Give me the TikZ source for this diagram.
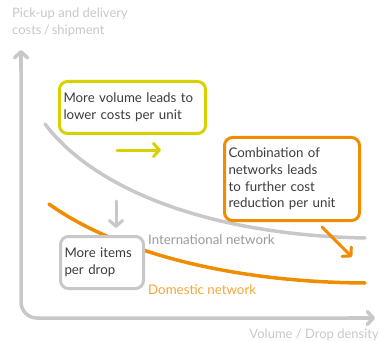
\documentclass[tikz,border=0pt]{standalone}
\usepackage{fontspec}
\setmainfont{Lato}
\usetikzlibrary{arrows.meta}
\definecolor{axisgray}{HTML}{C8C8C8}
\definecolor{txtgray}{HTML}{3C3C3C}
\definecolor{labgray}{HTML}{9A9A9A}
\definecolor{ylw}{HTML}{D9D000}
\definecolor{org}{HTML}{F08C00}
\definecolor{lorg}{HTML}{F5A637}
\tikzset{
  chev/.style={-{Straight Barb[length=6pt,width=13pt,round]}},
  infobox/.style={draw,line width=3pt,rounded corners=8pt,inner sep=0pt,anchor=north west,align=left,text=txtgray,font=\fontsize{13.3}{16.8}\selectfont},
  lab/.style={anchor=west,inner sep=0pt,font=\fontsize{13.3}{14}\selectfont},
}
\begin{document}
\begin{tikzpicture}[x=1pt,y=-1pt]
\useasboundingbox (0,0) rectangle (380,342);
% axes
\coordinate (ytip) at (21,50);
\coordinate (xtip) at (375,318);
\draw[axisgray,line width=3.5pt,line cap=round,chev] (21,70) -- (ytip);
\draw[axisgray,line width=3.5pt,line cap=round,rounded corners=16pt] (21,60) -- (21,318) -- (360,318);
\draw[axisgray,line width=3.5pt,line cap=round,chev] (350,318) -- (xtip);
\node[lab,anchor=north west,align=left,text=axisgray,font=\fontsize{13}{16.5}\selectfont] (ylab) at (12,8) {Pick-up and delivery\\costs\,/\,shipment};
\node[lab,anchor=east,text=axisgray,font=\fontsize{13}{14}\selectfont] (xlab) at (379,335) {Volume / Drop density};
% curves
\coordinate (g0) at (45,124);
\coordinate (g1) at (365,238);
\draw[axisgray,line width=3.5pt,line cap=round] (g0) .. controls (95,190) and (210,235) .. (g1);
\coordinate (o0) at (49,204);
\coordinate (o1) at (365,283);
\draw[org,line width=3.5pt,line cap=round] (o0) .. controls (110,248) and (220,282) .. (o1);
\node[lab,text=labgray] (intl) at (148,240) {International network};
\node[lab,text=lorg] (dom) at (148,290) {Domestic network};
% boxes
\node[infobox,draw=ylw,fill=white,minimum width=145pt,minimum height=52pt,text width=138pt,inner xsep=4pt,inner ysep=4pt] (vol) at (58,80) {More volume leads to\\lower costs per unit};
\node[infobox,draw=org,fill=white,minimum width=133pt,minimum height=83pt,text width=127pt,inner xsep=4pt,inner ysep=3pt] (comb) at (223,136) {Combination of\\networks leads\\to further cost\\reduction per unit};
\node[infobox,draw=axisgray,fill=white,minimum width=81pt,minimum height=52pt,text width=75pt,inner xsep=4pt,inner ysep=5pt] (items) at (59,235) {More items\\per drop};
% arrows
\coordinate (ya) at (117,150);
\coordinate (yb) at (161,150);
\draw[ylw,line width=3pt,line cap=round,chev] (ya) -- (yb);
\coordinate (ga) at (116,201);
\coordinate (gb) at (116,228);
\draw[axisgray,line width=3pt,line cap=round,chev] (ga) -- (gb);
\coordinate (oa) at (322,227);
\coordinate (ob) at (352,257);
\draw[org,line width=3pt,line cap=round,chev] (oa) -- (ob);
\end{tikzpicture}
\end{document}
